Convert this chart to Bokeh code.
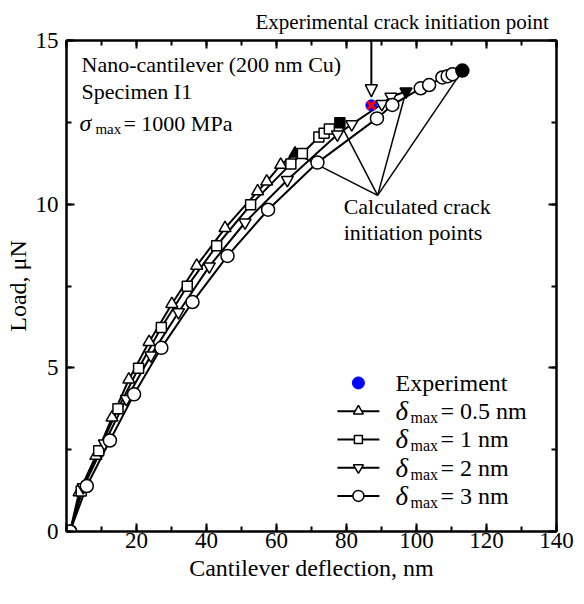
from bokeh.plotting import figure
from bokeh.models import Label, Arrow, NormalHead, LinearAxis, SingleIntervalTicker
from bokeh.embed import file_html
from bokeh.resources import INLINE

FONT = "Liberation Serif"

# ---- data ----
# delta_max = 0.5 nm (up triangles)
x_05 = [1.0, 3.6, 8.4, 13.0, 17.8, 23.6, 30.1, 37.2, 45.3, 54.6, 57.2, 61.2, 65.3]
y_05 = [0.0, 1.20, 2.31, 3.48, 4.64, 5.79, 6.95, 8.12, 9.27, 10.39, 10.69, 11.20, 11.55]
# delta_max = 1 nm (squares)
x_1 = [1.0, 4.2, 9.2, 14.7, 20.6, 27.1, 34.5, 42.9, 52.6, 64.1, 67.4, 72.1, 73.6, 75.1, 78.1]
y_1 = [0.0, 1.24, 2.47, 3.75, 4.99, 6.23, 7.49, 8.73, 9.98, 11.23, 11.55, 12.05, 12.17, 12.30, 12.49]
# delta_max = 2 nm (down triangles)
x_2 = [1.0, 4.8, 10.8, 17.1, 24.1, 32.0, 40.8, 51.0, 63.1, 77.4, 81.5, 90.1, 92.7, 97.0]
y_2 = [0.0, 1.35, 2.69, 4.05, 5.38, 6.70, 8.10, 9.44, 10.74, 12.13, 12.44, 13.06, 13.28, 13.44]
# delta_max = 3 nm (circles)
x_3 = [1.0, 5.8, 12.4, 19.3, 27.1, 36.0, 46.0, 57.6, 71.7, 88.7, 93.1, 101.2, 103.6, 107.4, 108.9, 110.3, 113.1]
y_3 = [0.0, 1.39, 2.78, 4.19, 5.61, 7.01, 8.42, 9.83, 11.27, 12.62, 13.03, 13.54, 13.64, 13.87, 13.91, 13.97, 14.08]
# experiment crack initiation point
exp_x = [87.1]
exp_y = [13.02]
# point where the "calculated" pointer lines meet
conv_x = 88.9
conv_y = 10.27

legend_labels = ["0.5", "1", "2", "3"]

# ---- figure ----
p = figure(width=576, height=588, x_range=(0, 140), y_range=(0, 15),
           output_backend="svg", toolbar_location=None,
           min_border_left=66, min_border_right=20, min_border_top=39, min_border_bottom=57)
p.xgrid.visible = False
p.ygrid.visible = False
p.outline_line_color = "black"
p.outline_line_width = 2
p.background_fill_color = "white"
p.border_fill_color = "white"

# annotation text above the frame, carried by the title
p.title.text = "Experimental crack initiation point"
p.title.align = "left"
p.title.offset = 189
p.title.text_font = FONT
p.title.text_font_size = "21px"
p.title.text_font_style = "normal"
p.title.text_color = "black"
p.title.standoff = 14

bottom = p.below[0]
left = p.left[0]
bottom.ticker = SingleIntervalTicker(interval=20, num_minor_ticks=2)
left.ticker = SingleIntervalTicker(interval=5, num_minor_ticks=2)
top = LinearAxis(ticker=SingleIntervalTicker(interval=20, num_minor_ticks=2))
right = LinearAxis(ticker=SingleIntervalTicker(interval=5, num_minor_ticks=2))
p.add_layout(top, "above")
p.add_layout(right, "right")

for ax in [bottom, left, top, right]:
    ax.axis_line_width = 2
    ax.axis_line_color = "black"
    ax.major_tick_in = 8
    ax.major_tick_out = 0
    ax.minor_tick_in = 5
    ax.minor_tick_out = 0
    ax.major_tick_line_width = 2
    ax.minor_tick_line_width = 2
    ax.major_tick_line_color = "black"
    ax.minor_tick_line_color = "black"
    ax.major_label_text_font = FONT
    ax.major_label_text_font_size = "23px"
    ax.major_label_text_color = "black"
for ax in [top, right]:
    ax.major_label_text_font_size = "0px"
    ax.major_label_standoff = 0

# a single "0" at the corner (carried by the load axis)
bottom.major_label_overrides = {0: ""}
bottom.major_label_standoff = 1
left.major_label_standoff = 8

bottom.axis_label = "Cantilever deflection, nm"
left.axis_label = "Load, μN"
for ax in [bottom, left]:
    ax.axis_label_text_font = FONT
    ax.axis_label_text_font_size = "24px"
    ax.axis_label_text_font_style = "normal"
    ax.axis_label_text_color = "black"
    ax.axis_label_standoff = 2
bottom.axis_label_standoff = 4


def lab(**kw):
    kw.setdefault("text_font", FONT)
    kw.setdefault("text_color", "black")
    kw.setdefault("text_baseline", "middle")
    p.add_layout(Label(**kw))


# ---- series ----
series = [(x_05, y_05, "triangle", 12), (x_1, y_1, "square", 10),
          (x_2, y_2, "inverted_triangle", 12), (x_3, y_3, "circle", 13)]
for xs, ys, m, s in series:
    p.line(xs, ys, line_color="black", line_width=2)

# pointer lines to the calculated initiation points
p.segment(x0=[conv_x] * 4, y0=[conv_y] * 4,
          x1=[s[0][-1] for s in series], y1=[s[1][-1] for s in series],
          line_color="black", line_width=1.5)

for xs, ys, m, s in series:
    p.scatter(xs[:-1], ys[:-1], marker=m, size=s, fill_color="white",
              line_color="black", line_width=1.5)
    p.scatter(xs[-1:], ys[-1:], marker=m, size=s, fill_color="black",
              line_color="black", line_width=1.5)

p.scatter(exp_x, exp_y, marker="circle", size=11, fill_color="blue", line_color="blue")
p.scatter(exp_x, exp_y, marker="x", size=11, line_color="red", line_width=3)

# ---- annotations ----
p.add_layout(Arrow(end=NormalHead(size=12, fill_color="white", line_color="black", line_width=1.5),
                   x_start=exp_x[0], y_start=15.6, x_end=exp_x[0], y_end=13.28,
                   line_width=2, line_color="black"))

lab(x=conv_x, y=9.94, x_offset=-34, text="Calculated crack", text_font_size="22px")
lab(x=conv_x, y=9.12, x_offset=-34, text="initiation points", text_font_size="22px")

lab(x=4.3, y=14.27, text="Nano-cantilever (200 nm Cu)", text_font_size="22px")
lab(x=4.3, y=13.44, text="Specimen I1", text_font_size="22px")
lab(x=3.7, y=12.47, text="σ", text_font_style="italic", text_font_size="24px")
lab(x=3.7, y=12.29, x_offset=16, text="max", text_font_size="15px")
lab(x=3.7, y=12.47, x_offset=44, text="= 1000 MPa", text_font_size="22px")

# ---- legend (drawn by hand for the rich labels) ----
LEG_X = 83.4
LEG_HALF = 6.0
LEG_TX = 94.0
LEG_Y0 = 4.54
LEG_DY = 0.863
p.scatter([LEG_X], [LEG_Y0], marker="circle", size=12, fill_color="blue", line_color="blue")
lab(x=LEG_TX, y=LEG_Y0, text="Experiment", text_font_size="24px")
leg_sizes = [10, 8, 10, 11]
for i, ((xs, ys, m, s), lt) in enumerate(zip(series, legend_labels)):
    yy = LEG_Y0 - (i + 1) * LEG_DY
    p.line([LEG_X - LEG_HALF, LEG_X + LEG_HALF], [yy, yy], line_color="black", line_width=2)
    p.scatter([LEG_X], [yy], marker=m, size=leg_sizes[i], fill_color="white",
              line_color="black", line_width=1.5)
    lab(x=LEG_TX, y=yy, text="δ", text_font_style="italic", text_font_size="27px")
    lab(x=LEG_TX, y=yy - 0.2, x_offset=15, text="max", text_font_size="16px")
    lab(x=LEG_TX, y=yy, x_offset=45, text="= " + lt + " nm", text_font_size="24px")

open("out.html", "w").write(file_html(p, INLINE))
